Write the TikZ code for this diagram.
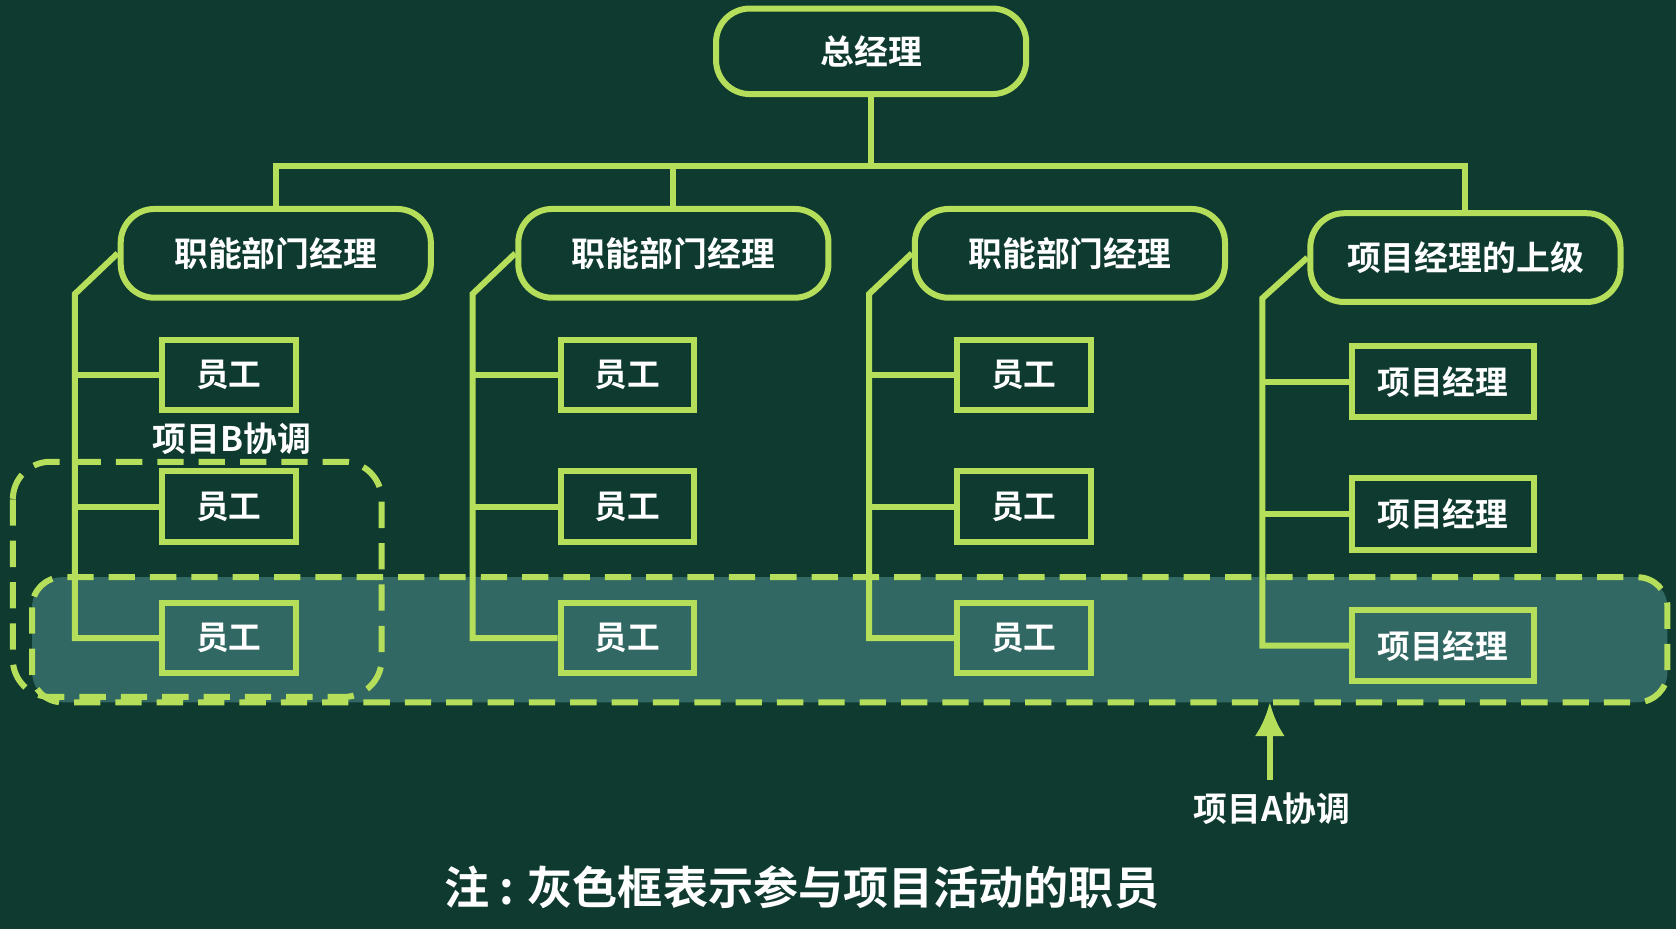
\documentclass[tikz,border=0pt]{standalone}
\usepackage{fontspec}
\usetikzlibrary{arrows.meta}
\newfontfamily\cjk{Noto Sans CJK SC}[BoldFont={Noto Sans CJK SC Bold}]
\definecolor{bg}{HTML}{0F3A30}
\definecolor{ln}{HTML}{B5DE5A}
\definecolor{gbox}{HTML}{3A7470}
\begin{document}
\begin{tikzpicture}[x=0.01cm,y=-0.01cm,
  box/.style={draw=ln,line width=1.6pt,rounded corners=9pt,text=white,font=\cjk\bfseries\fontsize{9}{11}\selectfont,inner sep=0pt},
  emp/.style={draw=ln,line width=1.6pt,text=white,font=\cjk\bfseries\fontsize{8.7}{11}\selectfont,inner sep=0pt},
  wire/.style={ln,line width=1.6pt},
  lab/.style={text=white,font=\cjk\bfseries\fontsize{9}{11}\selectfont}]
\fill[bg] (0,0) rectangle (1568,869);
\useasboundingbox (0,0) rectangle (1568,869);
% gray box
\fill[gbox,opacity=0.8,rounded corners=8pt] (30,540) rectangle (1560,657);
% top
\node[box,minimum width=2.9cm,minimum height=0.8cm] (gm) at (815,48) {总经理};
\foreach \i/\x/\y/\t in {1/258/237/职能部门经理,2/630/237/职能部门经理,3/1001/237/职能部门经理,4/1371/241/项目经理的上级}
  \node[box,minimum width=2.9cm,minimum height=0.83cm] (d\i) at (\x,\y) {\t};
\coordinate (bus) at (815,155);
\draw[wire] (gm.south) -- (bus);
\draw[wire] (d1.north) |- (bus) -| (d4.north);
\draw[wire] (d2.north) -- (d2.north|-bus);
% employees
\foreach \c/\x/\vx in {1/214/72,2/587/443,3/958/815}{
  \foreach \r/\y in {1/351,2/474,3/597}
    \node[emp,minimum width=1.25cm,minimum height=0.66cm] (e\c\r) at (\x,\y) {员工};
  \draw[wire] (d\c.west) -- ++(-40,38) coordinate (t\c) -- (t\c|-e\c3.west) -- (e\c3.west);
  \draw[wire] (t\c|-e\c1.west) -- (e\c1.west);
  \draw[wire] (t\c|-e\c2.west) -- (e\c2.west);
}
\foreach \r/\y in {1/357,2/481,3/604}
  \node[emp,minimum width=1.7cm,minimum height=0.67cm] (p\r) at (1350,\y) {项目经理};
\draw[wire] (d4.west) -- ++(-42,38) coordinate (t4) -- (t4|-p3.west) -- (p3.west);
\draw[wire] (t4|-p1.west) -- (p1.west);
\draw[wire] (t4|-p2.west) -- (p2.west);
% dashed outlines
\draw[ln,line width=1.6pt,dash pattern=on 7pt off 4pt,rounded corners=8pt] (30,540) rectangle (1560,657);
\draw[ln,line width=1.6pt,dash pattern=on 7pt off 4pt,rounded corners=10pt] (12,432) rectangle (357,652);
\node[lab] (lb) at (217,410) {项目B协调};
\node[lab] (la) at (1190,757) {项目A协调};
\coordinate (ga) at (1188,657);
\draw[wire,-{Latex[length=9pt,width=8pt]}] (la.north -| ga) -- (ga);
\node[text=white,font=\cjk\bfseries\fontsize{12}{14}\selectfont] (note) at (750,830) {注 : 灰色框表示参与项目活动的职员};
\end{tikzpicture}
\end{document}
